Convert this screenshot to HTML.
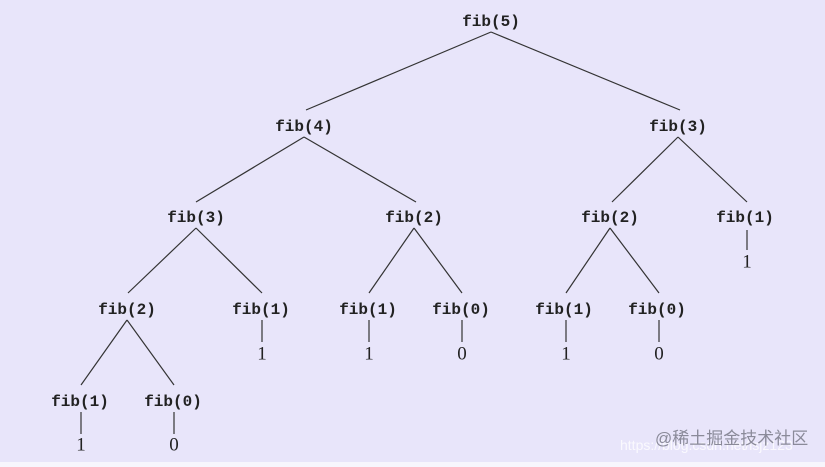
<!DOCTYPE html>
<html><head><meta charset="utf-8"><style>
html,body{margin:0;padding:0;background:#fff}
svg{display:block}
.n{font-family:"Liberation Mono",monospace;font-weight:bold;font-size:16px;fill:#222;text-anchor:middle;dominant-baseline:central}
.d{font-family:"Liberation Serif",serif;font-size:19px;fill:#222;text-anchor:middle;dominant-baseline:central}
line{stroke:#333;stroke-width:1.2}
</style></head><body>
<svg width="825" height="467" viewBox="0 0 825 467" xmlns="http://www.w3.org/2000/svg">
<rect x="0" y="0" width="825" height="462" fill="#e8e5fa"/>
<rect x="0" y="462" width="825" height="5" fill="#f7f6fd"/>
<!-- edges -->
<line x1="491" y1="32" x2="306" y2="110"/>
<line x1="491" y1="32" x2="680" y2="110"/>
<line x1="304" y1="137" x2="196" y2="202"/>
<line x1="304" y1="137" x2="416" y2="202"/>
<line x1="678" y1="137" x2="612" y2="202"/>
<line x1="678" y1="137" x2="747" y2="202"/>
<line x1="196" y1="228" x2="128" y2="293"/>
<line x1="196" y1="228" x2="262" y2="293"/>
<line x1="414" y1="228" x2="369" y2="293"/>
<line x1="414" y1="228" x2="462" y2="293"/>
<line x1="610" y1="228" x2="566" y2="293"/>
<line x1="610" y1="228" x2="659" y2="293"/>
<line x1="127" y1="320" x2="81" y2="385"/>
<line x1="127" y1="320" x2="174" y2="385"/>
<!-- leaf verticals -->
<line x1="747" y1="230" x2="747" y2="250"/>
<line x1="262" y1="320" x2="262" y2="342"/>
<line x1="369" y1="320" x2="369" y2="342"/>
<line x1="462" y1="320" x2="462" y2="342"/>
<line x1="566" y1="320" x2="566" y2="342"/>
<line x1="659" y1="320" x2="659" y2="342"/>
<line x1="81" y1="412" x2="81" y2="434"/>
<line x1="174" y1="412" x2="174" y2="434"/>
<!-- nodes -->
<text class="n" x="491" y="22">fib(5)</text>
<text class="n" x="304" y="127">fib(4)</text>
<text class="n" x="678" y="127">fib(3)</text>
<text class="n" x="196" y="218">fib(3)</text>
<text class="n" x="414" y="218">fib(2)</text>
<text class="n" x="610" y="218">fib(2)</text>
<text class="n" x="745" y="218">fib(1)</text>
<text class="n" x="127" y="310">fib(2)</text>
<text class="n" x="261" y="310">fib(1)</text>
<text class="n" x="368" y="310">fib(1)</text>
<text class="n" x="461" y="310">fib(0)</text>
<text class="n" x="564" y="310">fib(1)</text>
<text class="n" x="657" y="310">fib(0)</text>
<text class="n" x="80" y="402">fib(1)</text>
<text class="n" x="173" y="402">fib(0)</text>
<!-- leaves -->
<text class="d" x="747" y="262">1</text>
<text class="d" x="262" y="354">1</text>
<text class="d" x="369" y="354">1</text>
<text class="d" x="462" y="354">0</text>
<text class="d" x="566" y="354">1</text>
<text class="d" x="659" y="354">0</text>
<text class="d" x="81" y="445">1</text>
<text class="d" x="174" y="445">0</text>
<!-- watermark -->
<text x="620" y="450" font-family="Liberation Sans,sans-serif" font-size="14" fill="#ffffff" opacity="0.8">https://blog.csdn.net/lsjz123</text>
<text x="655" y="444" font-family="Liberation Sans,'Noto Sans CJK SC',sans-serif" font-size="17" fill="#8a8a99">@稀土掘金技术社区</text>
</svg>
</body></html>
